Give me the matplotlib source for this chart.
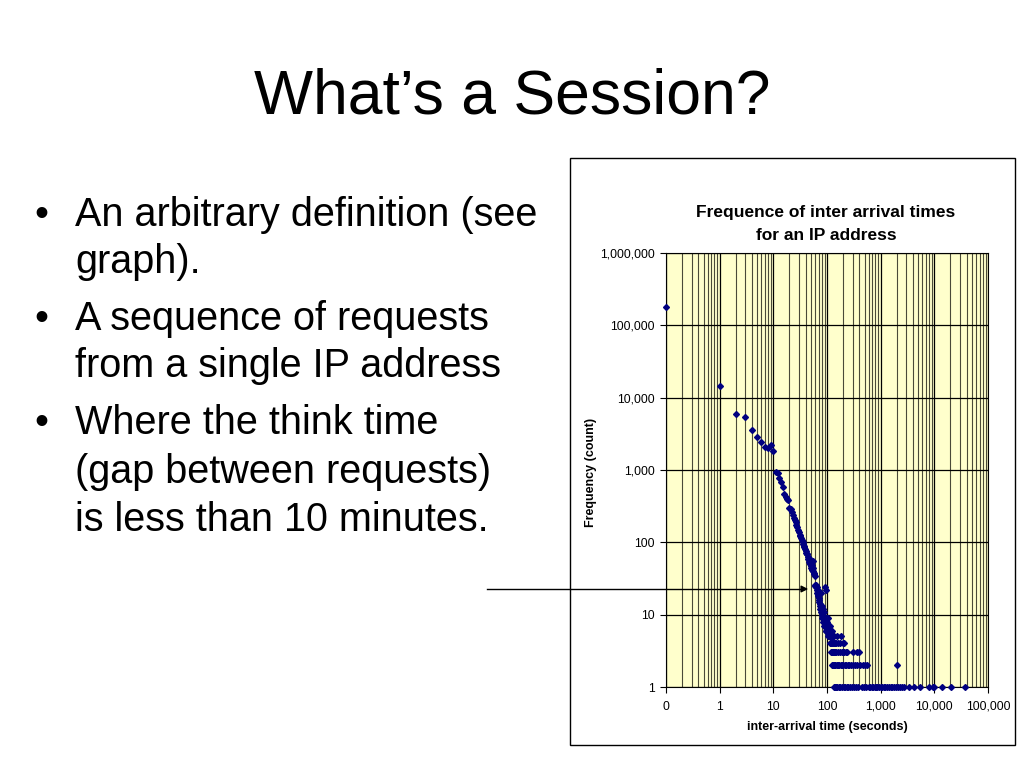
import matplotlib.pyplot as plt
import matplotlib.ticker as mticker
from matplotlib.patches import Rectangle

# ---- data ----
# first point is the 0 s bucket, Excel draws it on the left edge of the log axis (0.1)
head_secs = [0.1, 1, 2, 3, 4, 5, 6, 7, 8, 9, 10]
head_counts = [181000, 14500, 5900, 5450, 3550, 2850, 2400, 2100, 2000, 2200, 1830]

mid_secs = list(range(11, 101))
mid_counts = [950, 900, 780, 690, 580, 470, 420, 400, 380, 300,
              290, 260, 235, 220, 205, 190, 175, 162, 150, 140,
              128, 122, 115, 108, 102, 96, 90, 86, 82, 75,
              72, 68, 70, 62, 58, 60, 54, 50, 52, 47,
              44, 48, 42, 40, 44, 55, 38, 36, 34, 26,
              25, 24, 26, 22, 24, 20, 22, 18, 19, 16,
              17, 15, 14, 12, 13, 20, 12, 11, 13, 10,
              11, 9, 12, 8, 10, 9, 11, 7, 8, 9,
              7, 24, 8, 6, 22, 7, 6, 9, 6, 7]

tail_secs = [101, 102, 103, 104, 105, 106, 107, 108, 109, 110,
             111, 112, 113, 114, 115, 116, 117, 118, 119, 120,
             121, 122, 123, 124, 125, 126, 127, 128, 129, 130,
             131, 132, 133, 134, 135, 136, 137, 138, 139, 140,
             142, 144, 146, 148, 150, 152, 154, 156, 158, 160,
             163, 166, 169, 172, 175, 178, 181, 184, 187, 190,
             193, 196, 199, 202, 205, 208, 211, 215, 220, 225,
             230, 235, 240, 245, 250, 260, 270, 280, 290, 300,
             310, 320, 330, 340, 355, 370, 385, 400, 420, 440,
             460, 480, 500, 530, 560, 600, 640, 680, 720, 770,
             820, 870, 930, 1000, 1070, 1150, 1230, 1320, 1420, 1530,
             1650, 1780, 1920, 2050, 2100, 2300, 2500, 2770, 3440, 4270,
             5520, 8120, 9360, 10060, 14000, 20700, 36600]
tail_counts = [6, 8, 5, 7, 6, 9, 5, 6, 7, 5,
               6, 5, 4, 6, 5, 7, 4, 5, 3, 6,
               4, 5, 3, 4, 6, 2, 5, 3, 4, 2,
               5, 3, 2, 4, 1, 3, 5, 2, 4, 1,
               3, 2, 4, 1, 3, 2, 5, 1, 4, 2,
               3, 1, 2, 4, 3, 1, 2, 5, 3, 2,
               1, 4, 3, 2, 1, 4, 3, 2, 1, 3,
               2, 1, 3, 2, 1, 2, 1, 2, 1, 3,
               2, 1, 2, 1, 3, 2, 1, 3, 2, 1,
               2, 1, 2, 1, 2, 1, 1, 1, 1, 1,
               1, 1, 1, 1, 1, 1, 1, 1, 1, 1,
               1, 1, 1, 2, 1, 1, 1, 1, 1, 1,
               1, 1, 1, 1, 1, 1, 1]

x_ticks = [0.1, 1, 10, 100, 1000, 10000, 100000]
x_tick_labels = ["0", "1", "10", "100", "1,000", "10,000", "100,000"]
y_ticks = [1, 10, 100, 1000, 10000, 100000, 1000000]
y_tick_labels = ["1", "10", "100", "1,000", "10,000", "100,000", "1,000,000"]

bullets = [
    ["An arbitrary definition (see", "graph)."],
    ["A sequence of requests", "from a single IP address"],
    ["Where the think time", "(gap between requests)", "is less than 10 minutes."],
]

plt.rcParams['font.family'] = ['Liberation Sans', 'DejaVu Sans']

W, H = 1024, 768
fig = plt.figure(figsize=(10.24, 7.68), dpi=100)
fig.patch.set_facecolor('white')

# slide title
fig.text(512 / W, 1 - 97 / H, "What\u2019s a Session?", ha='center', va='center', fontsize=45)

# bullet text
baselines = [[226, 273], [330, 377], [434, 483, 531]]
for lines, ys in zip(bullets, baselines):
    for i, (txt, y) in enumerate(zip(lines, ys)):
        if i == 0:
            fig.text(34 / W, 1 - y / H, "\u2022", fontsize=28.5, va='baseline')
        fig.text(75 / W, 1 - y / H, txt, fontsize=28.5, va='baseline')

# chart frame
fig.patches.append(Rectangle((570 / W, 1 - 745 / H), 445 / W, 587 / H,
                             transform=fig.transFigure, fill=False, edgecolor='black', lw=1))

ax = fig.add_axes([666 / W, 1 - 687 / H, 322 / W, 434 / H])
ax.set_facecolor('#FFFFCC')
ax.set_xscale('log')
ax.set_yscale('log')
ax.set_xlim(0.1, 100000)
ax.set_ylim(1, 1000000)

all_x = head_secs + mid_secs + tail_secs
all_y = head_counts + mid_counts + tail_counts
ax.plot(all_x, all_y, linestyle='none', marker='D', markersize=3,
        color='#000080', clip_on=False, zorder=3)

ax.xaxis.set_major_locator(mticker.FixedLocator(x_ticks))
ax.xaxis.set_major_formatter(mticker.FixedFormatter(x_tick_labels))
ax.xaxis.set_minor_locator(mticker.LogLocator(base=10, subs=range(2, 10)))
ax.xaxis.set_minor_formatter(mticker.NullFormatter())
ax.yaxis.set_major_locator(mticker.FixedLocator(y_ticks))
ax.yaxis.set_major_formatter(mticker.FixedFormatter(y_tick_labels))
ax.yaxis.set_minor_locator(mticker.NullLocator())

ax.grid(which='major', axis='both', color='black', lw=0.9)
ax.grid(which='minor', axis='x', color='#4a4a38', lw=0.8)
ax.set_axisbelow(True)
ax.tick_params(which='major', length=4, width=0.8, labelsize=8.7)
ax.tick_params(axis='y', which='major', pad=4)
ax.tick_params(axis='x', which='major', pad=12.5)
for lbl in ax.get_xticklabels():
    lbl.set_verticalalignment('baseline')
ax.tick_params(which='minor', length=0)
for s in ax.spines.values():
    s.set_linewidth(0.8)

# chart title and axis titles
fig.text(826 / W, 1 - 213 / H, "Frequence of inter arrival times", ha='center', va='center',
         fontsize=12.5, fontweight='bold')
fig.text(826 / W, 1 - 236 / H, "for an IP address", ha='center', va='center',
         fontsize=12.5, fontweight='bold')
fig.text(827 / W, 1 - 727 / H, "inter-arrival time (seconds)", ha='center', va='center',
         fontsize=9, fontweight='bold')
fig.text(591 / W, 1 - 472 / H, "Frequency (count)", ha='center', va='center',
         rotation=90, fontsize=9, fontweight='bold')

# arrow pointing at the knee of the curve
fig.add_artist(plt.Line2D([487 / W, 804 / W], [1 - 589 / H, 1 - 589 / H],
                          transform=fig.transFigure, color='black', lw=1))
ax.annotate("", xy=(811 / W, 1 - 589 / H), xycoords='figure fraction',
            xytext=(800 / W, 1 - 589 / H), textcoords='figure fraction',
            arrowprops=dict(arrowstyle='-|>', color='black', lw=1, mutation_scale=10))

fig.savefig("out.png", dpi=100, facecolor='white')
